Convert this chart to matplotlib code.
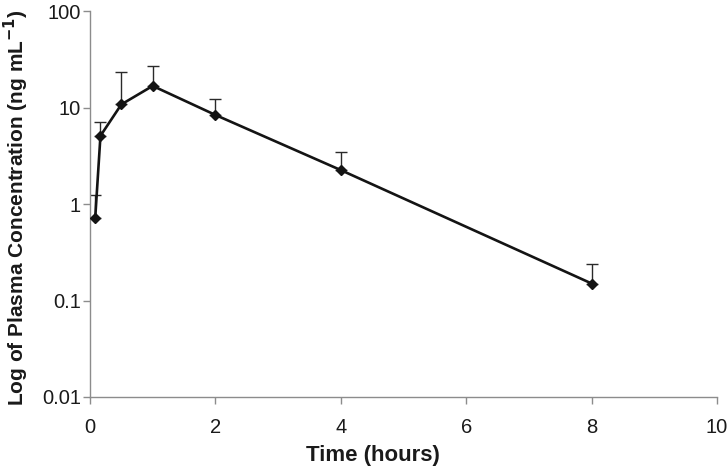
import numpy as np
import matplotlib
matplotlib.use('Agg')
import matplotlib.pyplot as plt
from matplotlib.ticker import FixedLocator, FuncFormatter, NullLocator

plt.rcParams['font.family'] = ['Liberation Sans', 'DejaVu Sans']

# sampling times (hours) and mean plasma concentration (ng/mL)
time_h = [0.083, 0.167, 0.5, 1, 2, 4, 8]
conc = [0.71, 5.1, 10.8, 16.8, 8.4, 2.25, 0.15]
conc_sd = [0.53, 2.0, 12.8, 10.0, 4.0, 1.2, 0.09]  # upper error only

yticks = [0.01, 0.1, 1, 10, 100]
xticks = [0, 2, 4, 6, 8, 10]

fig = plt.figure(figsize=(7.28, 4.67), dpi=100)
ax = fig.add_axes([0.1236, 0.150, 0.8614, 0.826])

ax.errorbar(time_h, conc, yerr=[np.zeros(len(conc_sd)), conc_sd],
            fmt='none', ecolor='#2a2a2a', elinewidth=1.0, capsize=4,
            capthick=1.0, zorder=2)
ax.plot(time_h, conc, '-', color='#141414', lw=1.9, marker='D',
        markersize=5.5, markerfacecolor='#141414', markeredgecolor='#141414',
        zorder=3)

ax.set_yscale('log')
ax.set_ylim(0.01, 100)
ax.set_xlim(0, 10)
ax.yaxis.set_major_locator(FixedLocator(yticks))
ax.yaxis.set_minor_locator(NullLocator())
ax.yaxis.set_major_formatter(FuncFormatter(lambda v, p: '%g' % v))
ax.set_xticks(xticks)

for s in ['top', 'right']:
    ax.spines[s].set_visible(False)
for s in ['left', 'bottom']:
    ax.spines[s].set_color('#8c8c8c')
    ax.spines[s].set_linewidth(1.0)

ax.tick_params(axis='both', colors='#8c8c8c', labelcolor='#1a1a1a',
               labelsize=14.5, length=5, width=1.0, direction='out')
ax.tick_params(axis='y', pad=1.5)
ax.tick_params(axis='x', pad=10.5)

ax.set_xlabel('Time (hours)', fontsize=16, fontweight='bold', color='#1a1a1a')
ax.xaxis.set_label_coords(0.451, -0.125)
ax.set_ylabel('Log of Plasma Concentration (ng mL$^{\\mathbf{-1}}$)',
              fontsize=15, fontweight='bold', color='#1a1a1a')
ax.yaxis.set_label_coords(-0.094, 0.49)

fig.savefig('out.png', dpi=100)
